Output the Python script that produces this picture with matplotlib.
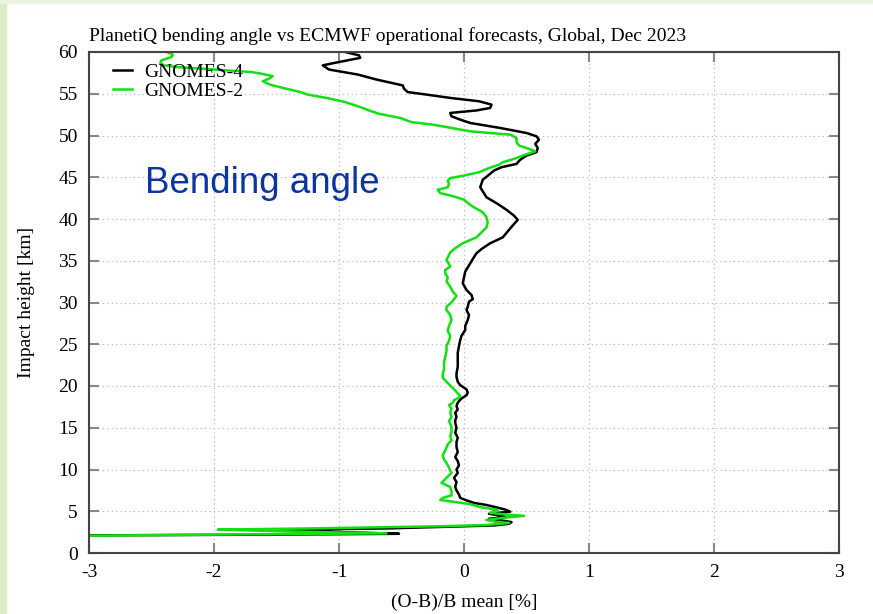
import matplotlib
matplotlib.use("Agg")
import matplotlib.pyplot as plt
from matplotlib.patches import Rectangle

plt.rcParams['axes.unicode_minus'] = False
plt.rcParams['font.family'] = 'Liberation Serif'

# GNOMES-4 profile, top to bottom
g4_height = [60.0, 59.6, 59.3, 58.8, 58.4, 57.9, 57.3, 56.7, 56.2, 56.0, 55.6, 55.2, 54.9,
             54.5, 54.1, 53.7, 53.3, 53.0, 52.7, 52.3, 51.9, 51.5, 50.9, 50.3, 49.9, 49.5,
             49.0, 48.5, 48.0, 47.6, 47.1, 46.6, 46.2, 45.8, 45.3, 44.7, 43.8, 42.6, 41.8,
             41.1, 40.4, 39.9, 39.4, 38.7, 37.8, 37.1, 36.4, 35.9, 35.2, 34.7, 33.7, 33.0,
             32.3, 31.5, 30.9, 30.4, 30.1, 29.5, 29.1, 28.5, 27.9, 27.2, 26.7, 26.0, 25.5,
             24.8, 24.0, 23.0, 22.3, 21.5, 21.1, 20.5, 20.1, 19.6, 19.2, 18.9, 18.5, 18.2,
             18.0, 17.6, 17.2, 16.8, 16.3, 15.9, 15.6, 15.0, 14.4, 13.8, 13.3, 12.7, 12.1,
             11.5, 11.0, 10.5, 10.0, 9.6, 9.0, 8.5, 7.9, 7.5, 7.0, 6.6, 6.3, 6.0, 5.75, 5.5,
             5.2, 4.95, 4.7, 4.5, 4.3, 4.1, 3.9, 3.7, 3.5, 3.3, 2.95, 2.75, 2.6, 2.4, 2.3,
             2.2, 2.1]
g4_bias = [-0.95, -0.84, -0.83, -1.0, -1.13, -1.08, -0.85, -0.70, -0.55, -0.49, -0.48, -0.45, -0.30,
           -0.11, 0.12, 0.22, 0.21, 0.10, -0.11, -0.10, -0.03, 0.05, 0.29, 0.50, 0.58, 0.60,
           0.57, 0.59, 0.58, 0.50, 0.45, 0.42, 0.30, 0.24, 0.20, 0.15, 0.13, 0.18, 0.27,
           0.34, 0.40, 0.43, 0.40, 0.36, 0.31, 0.21, 0.14, 0.10, 0.07, 0.05, 0.01, 0.00,
           -0.01, 0.02, 0.06, 0.07, 0.04, 0.03, 0.02, 0.04, 0.03, 0.01, 0.01, -0.02, -0.03,
           -0.04, -0.05, -0.05, -0.05, -0.06, -0.06, -0.05, -0.03, 0.02, 0.03, 0.02, -0.02, -0.04,
           -0.05, -0.06, -0.05, -0.07, -0.06, -0.07, -0.07, -0.06, -0.07, -0.05, -0.06, -0.06, -0.05,
           -0.07, -0.05, -0.04, -0.06, -0.05, -0.08, -0.06, -0.07, -0.06, -0.04, -0.03, 0.02, 0.08, 0.18, 0.25,
           0.33, 0.37, 0.20, 0.28, 0.34, 0.20, 0.30, 0.38, 0.36, 0.24, -0.60, -1.55, -1.2, -0.75, -0.52,
           -1.5, -3.2]

# GNOMES-2 profile
g2_height = [60.0, 59.7, 59.4, 59.0, 58.7, 58.4, 58.2, 57.9, 57.6, 57.4, 57.1, 56.8, 56.5, 56.2,
             56.0, 55.6, 55.2, 54.9, 54.5, 54.0, 53.4, 53.0, 52.6, 52.1, 51.6, 51.3, 50.9, 50.5,
             50.1, 49.7, 49.2, 48.8, 48.4, 48.1, 47.6, 47.2, 46.8, 46.5, 46.1, 45.6, 45.2, 44.9,
             44.6, 44.2, 43.8, 43.5, 43.1, 42.7, 42.3, 41.8, 41.4, 40.8, 40.2, 39.6, 39.0, 38.4,
             37.8, 37.1, 36.5, 36.0, 35.4, 35.1, 34.6, 34.3, 33.9, 33.5, 33.0, 32.5, 31.9, 31.3,
             30.8, 30.4, 30.0, 29.5, 29.1, 28.5, 27.9, 27.2, 26.6, 26.0, 25.4, 24.8, 24.2, 23.5,
             22.8, 22.0, 21.4, 21.0, 20.5, 19.9, 19.3, 18.8, 18.6, 18.3, 18.0, 17.7, 17.3, 16.8,
             16.3, 15.8, 15.1, 14.5, 14.0, 13.5, 13.0, 12.3, 11.7, 11.2, 10.8, 10.2, 9.6, 9.0,
             8.4, 7.9, 7.4, 6.9, 6.6, 6.35, 6.1, 5.85, 5.5, 5.15, 4.8, 4.6, 4.45, 4.2, 3.95,
             3.75, 3.6, 3.35, 3.2, 2.95, 2.8, 2.65, 2.45, 2.35, 2.25, 2.05]
g2_bias = [-2.38, -2.33, -2.34, -2.42, -2.43, -2.40, -2.30, -2.00, -1.70, -1.62, -1.53, -1.56, -1.61, -1.57,
           -1.53, -1.42, -1.31, -1.25, -1.10, -0.95, -0.83, -0.76, -0.68, -0.51, -0.42, -0.25, -0.10, 0.05,
           0.37, 0.42, 0.42, 0.44, 0.52, 0.57, 0.47, 0.40, 0.31, 0.28, 0.20, 0.12, 0.00, -0.11,
           -0.13, -0.12, -0.13, -0.21, -0.19, -0.08, 0.00, 0.04, 0.08, 0.15, 0.18, 0.19, 0.18, 0.14,
           0.10, -0.01, -0.07, -0.11, -0.13, -0.14, -0.12, -0.11, -0.15, -0.15, -0.13, -0.14, -0.11, -0.09,
           -0.06, -0.08, -0.10, -0.14, -0.14, -0.11, -0.10, -0.12, -0.13, -0.11, -0.12, -0.14, -0.14, -0.15,
           -0.16, -0.16, -0.17, -0.17, -0.14, -0.10, -0.06, -0.03, -0.04, -0.08, -0.09, -0.12, -0.10, -0.11,
           -0.10, -0.12, -0.10, -0.10, -0.11, -0.10, -0.13, -0.15, -0.17, -0.16, -0.14, -0.12, -0.10, -0.14,
           -0.18, -0.11, -0.10, -0.10, -0.17, -0.19, -0.07, 0.05, 0.13, 0.27, 0.21, 0.35, 0.48, 0.30, 0.18,
           0.25, 0.36, 0.18, -0.20, -1.2, -1.97, -1.6, -0.95, -0.62, -1.6, -3.2]

x_ticks = [-3, -2, -1, 0, 1, 2, 3]
y_ticks = list(range(0, 61, 5))

fig = plt.figure(figsize=(8.73, 6.14), dpi=100)
# light green frame of the slide
fig.patches.append(Rectangle((0, 0), 6 / 873, 1, transform=fig.transFigure, color='#dcedc6', zorder=0))
fig.patches.append(Rectangle((0, 1 - 3 / 614), 1, 3 / 614, transform=fig.transFigure, color='#eaf4de', zorder=0))

ax = fig.add_axes([89 / 873, 1 - 553 / 614, 750 / 873, 501 / 614])
ax.plot(g4_bias, g4_height, color='black', lw=1.8, label='GNOMES-4')
ax.plot(g2_bias, g2_height, color='#12e012', lw=1.8, label='GNOMES-2')

ax.set_xlim(-3, 3)
ax.set_ylim(0, 60)
ax.set_xticks(x_ticks)
ax.set_yticks(y_ticks)
ax.grid(True, linestyle=(0, (1, 3)), color='#b0b0b0', lw=0.8)
ax.tick_params(direction='in', length=7, width=1.5, color='#888888', labelsize=14,
               top=True, right=True, pad=8)
for s in ax.spines.values():
    s.set_color('#444444')
    s.set_linewidth(1.5)

ax.set_xlabel('(O-B)/B mean [%]', fontsize=14, labelpad=9)
ax.set_ylabel('Impact height [km]', fontsize=14, labelpad=17)
ax.set_title('PlanetiQ bending angle vs ECMWF operational forecasts, Global, Dec 2023',
             fontsize=14, loc='left', pad=8)

ax.text(0.075, 0.738, 'Bending angle', transform=ax.transAxes, fontsize=26.5,
        family='Liberation Sans', color='#0c35a0', va='center')

leg = ax.legend(loc='upper left', frameon=False, fontsize=14, handlelength=1.0,
                borderaxespad=0.2, labelspacing=0.05, handletextpad=0.6,
                bbox_to_anchor=(0.016, 1.0))

fig.savefig('out.png', dpi=100)
